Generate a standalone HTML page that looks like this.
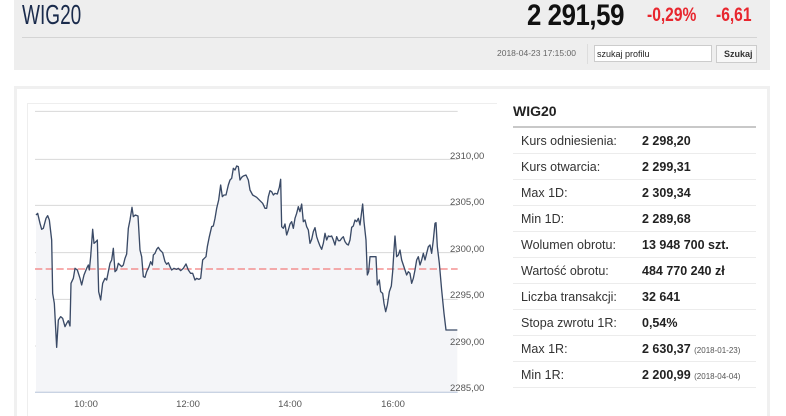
<!DOCTYPE html>
<html><head><meta charset="utf-8"><style>
*{margin:0;padding:0;box-sizing:border-box}
html,body{width:786px;height:416px;overflow:hidden}
body{background:#fff;font-family:"Liberation Sans",sans-serif;position:relative}
.hdr{position:absolute;left:14px;top:0;width:756px;height:70px;background:#eeeeee}
.abs{position:absolute;white-space:nowrap}
.panel{position:absolute;left:14px;top:86px;width:756px;height:330px;border:3px solid #f0f0f0;border-bottom:none}
.row{position:absolute;left:513px;width:243px;height:26px;border-bottom:1px solid #ececec;font-size:12.5px;color:#333}
.row .l{position:absolute;left:8px;top:6px}
.row .v{position:absolute;left:129px;top:6px;font-weight:bold;color:#222}
.row .v small{font-weight:normal;font-size:8px;color:#555}
</style></head><body>
<div class="hdr"></div>
<div class="abs" style="left:22px;top:-1px;font-size:28px;color:#1a2b4c;transform:scaleX(0.68);transform-origin:0 0">WIG20</div>
<div class="abs" style="left:527px;top:-1px;font-size:30px;font-weight:bold;color:#111;letter-spacing:-0.5px;transform:scaleX(0.86);transform-origin:0 0">2 291,59</div>
<div class="abs" style="left:647px;top:5px;font-size:19px;font-weight:bold;color:#e8262e;transform:scaleX(0.82);transform-origin:0 0">-0,29%</div>
<div class="abs" style="left:716px;top:5px;font-size:19px;font-weight:bold;color:#e8262e;transform:scaleX(0.82);transform-origin:0 0">-6,61</div>
<div class="abs" style="left:22px;top:37px;width:735px;height:1px;background:#d4d4d4"></div>
<div class="abs" style="left:497px;top:48px;font-size:8.5px;color:#666">2018-04-23 17:15:00</div>
<div class="abs" style="left:587px;top:44px;width:1px;height:20px;background:#ddd"></div>
<div class="abs" style="left:594px;top:45px;width:118px;height:17px;background:#fff;border:1px solid #ccc;font-size:9px;color:#222;padding:3px 2px">szukaj profilu</div>
<div class="abs" style="left:716px;top:45px;width:41px;height:18px;background:#f7f7f7;border:1px solid #ccc;font-size:9px;font-weight:bold;color:#333;padding:3px 0 0 7px">Szukaj</div>
<div class="panel"></div>
<div class="abs" style="left:27px;top:103px;width:470px;height:313px;border-left:1px solid #eee;border-top:1px solid #eee"></div>
<svg class="abs" style="left:0;top:0" width="786" height="416">
<g transform="translate(20,100) scale(0.33333)">
<g stroke="#d8d8d8" stroke-width="3">
<line x1="45" y1="34" x2="1313" y2="34"/><line x1="45" y1="178" x2="1313" y2="178"/><line x1="45" y1="316" x2="1313" y2="316"/><line x1="45" y1="458" x2="1313" y2="458"/><line x1="45" y1="598" x2="1313" y2="598"/><line x1="45" y1="738" x2="1313" y2="738"/>
</g>
<polygon fill="#f4f5f8" points="48,876 48,345 53,340 60,370 65,388 70,385 78,355 83,347 88,360 95,420 98,580 103,610 110,742 115,660 122,650 128,655 135,680 140,670 145,662 150,678 153,550 160,535 165,505 172,510 180,535 185,555 192,525 200,505 205,495 208,510 212,470 218,388 222,430 228,425 232,420 236,575 242,600 248,550 255,535 260,540 265,515 270,490 275,480 280,445 285,515 290,510 295,490 300,495 305,500 310,495 315,475 320,462 325,385 330,360 336,322 340,350 346,345 354,348 360,450 365,470 370,530 375,532 380,515 387,500 392,485 397,495 400,465 405,460 410,448 415,442 420,450 428,458 435,485 440,493 445,488 450,500 455,510 462,505 470,508 475,505 482,512 490,505 498,492 505,510 512,520 518,520 525,540 530,535 537,538 542,535 548,480 553,475 558,470 562,440 568,410 575,380 580,378 585,355 590,325 596,300 602,255 607,290 612,285 618,285 625,255 630,240 635,235 640,205 645,210 650,198 655,200 660,240 665,232 670,228 678,225 685,240 690,270 698,285 710,292 720,302 728,310 735,325 740,325 745,290 750,272 755,275 760,285 765,280 772,282 778,262 782,238 785,380 790,385 795,372 800,405 805,390 810,372 815,365 820,385 825,355 830,340 835,320 840,335 845,312 850,365 855,360 860,380 865,390 870,430 875,418 880,395 885,383 890,410 895,425 900,438 905,448 910,430 915,400 920,420 925,408 930,410 935,408 940,420 945,435 950,410 955,422 960,422 965,415 970,410 975,425 980,432 985,435 990,420 995,382 1000,378 1005,360 1010,365 1015,355 1020,375 1025,335 1028,312 1032,365 1038,420 1042,525 1046,515 1050,470 1060,470 1068,470 1072,555 1078,540 1082,575 1088,580 1092,610 1097,635 1102,615 1108,575 1114,558 1118,515 1122,450 1125,408 1130,470 1135,465 1140,450 1145,480 1150,495 1155,510 1160,525 1165,515 1170,520 1175,550 1180,535 1185,510 1190,480 1195,470 1200,495 1205,480 1210,460 1215,480 1220,460 1225,440 1230,435 1235,460 1240,420 1245,370 1248,368 1252,440 1258,490 1265,570 1272,640 1278,690 1312,690 1312,876"/>
<line x1="45" y1="507" x2="1313" y2="507" stroke="#f27c7c" stroke-width="4" stroke-dasharray="22,10"/>
<polyline fill="none" stroke="#3a4a66" stroke-width="4" stroke-linejoin="round" points="48,345 53,340 60,370 65,388 70,385 78,355 83,347 88,360 95,420 98,580 103,610 110,742 115,660 122,650 128,655 135,680 140,670 145,662 150,678 153,550 160,535 165,505 172,510 180,535 185,555 192,525 200,505 205,495 208,510 212,470 218,388 222,430 228,425 232,420 236,575 242,600 248,550 255,535 260,540 265,515 270,490 275,480 280,445 285,515 290,510 295,490 300,495 305,500 310,495 315,475 320,462 325,385 330,360 336,322 340,350 346,345 354,348 360,450 365,470 370,530 375,532 380,515 387,500 392,485 397,495 400,465 405,460 410,448 415,442 420,450 428,458 435,485 440,493 445,488 450,500 455,510 462,505 470,508 475,505 482,512 490,505 498,492 505,510 512,520 518,520 525,540 530,535 537,538 542,535 548,480 553,475 558,470 562,440 568,410 575,380 580,378 585,355 590,325 596,300 602,255 607,290 612,285 618,285 625,255 630,240 635,235 640,205 645,210 650,198 655,200 660,240 665,232 670,228 678,225 685,240 690,270 698,285 710,292 720,302 728,310 735,325 740,325 745,290 750,272 755,275 760,285 765,280 772,282 778,262 782,238 785,380 790,385 795,372 800,405 805,390 810,372 815,365 820,385 825,355 830,340 835,320 840,335 845,312 850,365 855,360 860,380 865,390 870,430 875,418 880,395 885,383 890,410 895,425 900,438 905,448 910,430 915,400 920,420 925,408 930,410 935,408 940,420 945,435 950,410 955,422 960,422 965,415 970,410 975,425 980,432 985,435 990,420 995,382 1000,378 1005,360 1010,365 1015,355 1020,375 1025,335 1028,312 1032,365 1038,420 1042,525 1046,515 1050,470 1060,470 1068,470 1072,555 1078,540 1082,575 1088,580 1092,610 1097,635 1102,615 1108,575 1114,558 1118,515 1122,450 1125,408 1130,470 1135,465 1140,450 1145,480 1150,495 1155,510 1160,525 1165,515 1170,520 1175,550 1180,535 1185,510 1190,480 1195,470 1200,495 1205,480 1210,460 1215,480 1220,460 1225,440 1230,435 1235,460 1240,420 1245,370 1248,368 1252,440 1258,490 1265,570 1272,640 1278,690 1312,690"/>
<line x1="45" y1="877" x2="1313" y2="877" stroke="#c9d3e3" stroke-width="4"/>
</g>
<g font-family="Liberation Sans" font-size="9.5" fill="#555">
<text x="450" y="159">2310,00</text><text x="450" y="205">2305,00</text><text x="450" y="252">2300,00</text><text x="450" y="298">2295,00</text><text x="450" y="345">2290,00</text><text x="450" y="391">2285,00</text>
<text x="86" y="407" text-anchor="middle">10:00</text><text x="188" y="407" text-anchor="middle">12:00</text><text x="290" y="407" text-anchor="middle">14:00</text><text x="393" y="407" text-anchor="middle">16:00</text>
</g>
</svg>
<div class="abs" style="left:513px;top:103px;font-size:14px;font-weight:bold;color:#222">WIG20</div>
<div class="abs" style="left:513px;top:126px;width:243px;height:2px;background:#c8c8c8"></div>
<div class="row" style="top:128px"><span class="l">Kurs odniesienia:</span><span class="v">2 298,20</span></div>
<div class="row" style="top:154px"><span class="l">Kurs otwarcia:</span><span class="v">2 299,31</span></div>
<div class="row" style="top:180px"><span class="l">Max 1D:</span><span class="v">2 309,34</span></div>
<div class="row" style="top:206px"><span class="l">Min 1D:</span><span class="v">2 289,68</span></div>
<div class="row" style="top:232px"><span class="l">Wolumen obrotu:</span><span class="v">13 948 700 szt.</span></div>
<div class="row" style="top:258px"><span class="l">Wartość obrotu:</span><span class="v">484 770 240 zł</span></div>
<div class="row" style="top:284px"><span class="l">Liczba transakcji:</span><span class="v">32 641</span></div>
<div class="row" style="top:310px"><span class="l">Stopa zwrotu 1R:</span><span class="v">0,54%</span></div>
<div class="row" style="top:336px"><span class="l">Max 1R:</span><span class="v">2 630,37 <small>(2018-01-23)</small></span></div>
<div class="row" style="top:362px"><span class="l">Min 1R:</span><span class="v">2 200,99 <small>(2018-04-04)</small></span></div>
</body></html>
